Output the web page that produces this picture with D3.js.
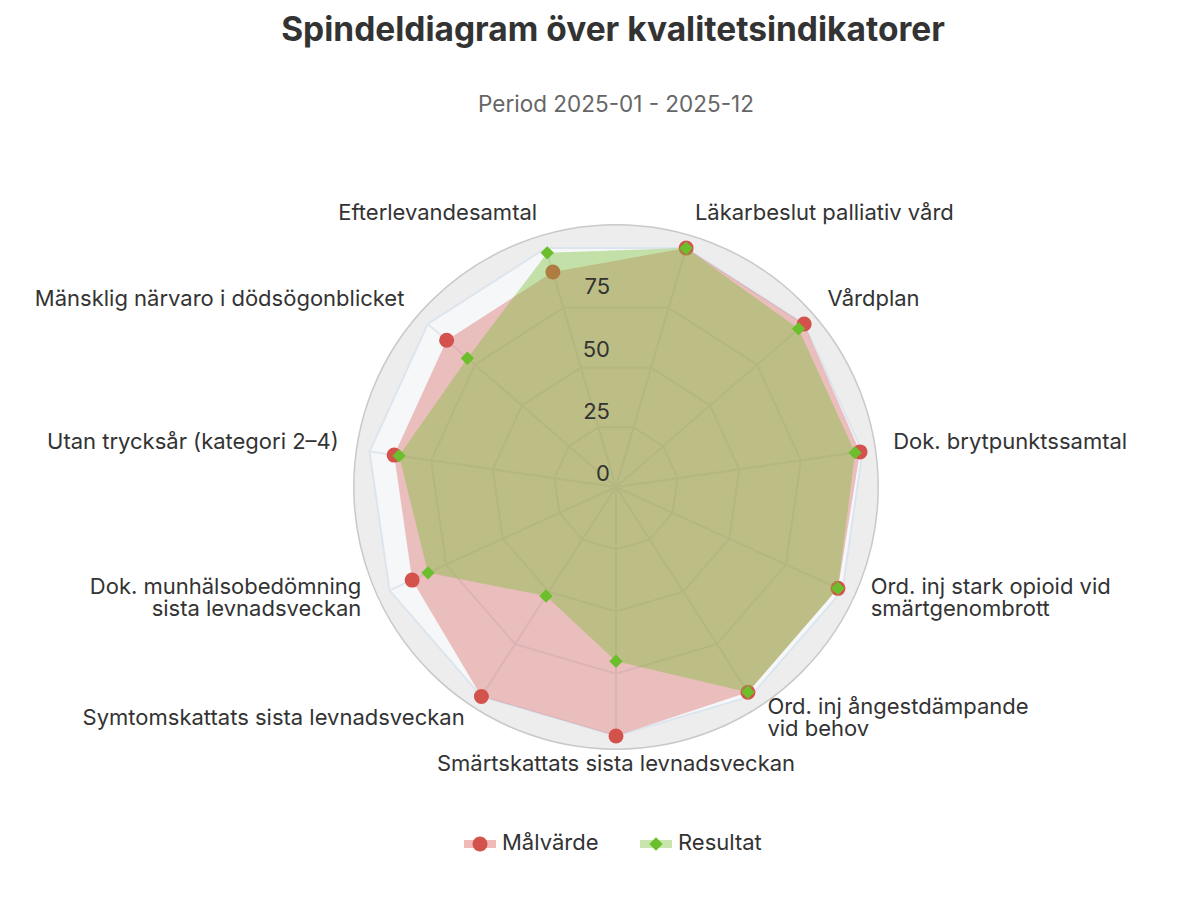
<!DOCTYPE html>
<html>
<head>
<meta charset="utf-8">
<script src="https://cdnjs.cloudflare.com/ajax/libs/d3/7.8.5/d3.min.js"></script>
<style>
  body { margin: 0; background: #fff; }
  #chart { width: 1182px; height: 898px; }
  text { font-family: Inter, "Noto Sans", sans-serif; }
</style>
</head>
<body>
<div id="chart"></div>
<script>

// categories, clockwise from the top
var categories = [
  ["Läkarbeslut palliativ vård"],
  ["Vårdplan"],
  ["Dok. brytpunktssamtal"],
  ["Ord. inj stark opioid vid", "smärtgenombrott"],
  ["Ord. inj ångestdämpande", "vid behov"],
  ["Smärtskattats sista levnadsveckan"],
  ["Symtomskattats sista levnadsveckan"],
  ["Dok. munhälsobedömning", "sista levnadsveckan"],
  ["Utan trycksår (kategori 2–4)"],
  ["Mänsklig närvaro i dödsögonblicket"],
  ["Efterlevandesamtal"]
];
var malvarde  = [100, 100, 99, 98, 98, 100, 100, 90, 90, 90, 90];
var resultat  = [100, 97, 97, 98, 98, 70, 52, 83, 88, 79, 98];
var ticks = [0, 25, 50, 75];
var seriesNames = ["Målvärde", "Resultat"];

var width = 1182, height = 898;
var cx = 616, cy = 487, R = 249;
var fs = "22px";

var svg = d3.select("#chart").append("svg")
    .attr("width", width)
    .attr("height", height);

var n = categories.length;
var step = 2 * Math.PI / n;
function ang(i) { return step / 2 + i * step; }

var r = d3.scaleLinear().domain([0, 100]).range([0, R]);

var g = svg.append("g").attr("transform", "translate(" + cx + "," + cy + ")");

// title
svg.append("text")
    .attr("x", 613).attr("y", 32)
    .attr("text-anchor", "middle").attr("dominant-baseline", "middle")
    .style("font-size", "33.5px").style("font-weight", "bold").style("fill", "#333")
    .text("Spindeldiagram över kvalitetsindikatorer");
svg.append("text")
    .attr("x", 616).attr("y", 106)
    .attr("text-anchor", "middle").attr("dominant-baseline", "middle")
    .style("font-size", "22.5px").style("fill", "#666")
    .text("Period 2025-01 - 2025-12");

// background
g.append("circle").attr("r", R * 1.053)
    .style("fill", "#ededed").style("stroke", "#c9c9c9").style("stroke-width", 1.5);

function ring(v) {
  return d3.lineRadial().curve(d3.curveLinearClosed)
    .angle(function(d, i) { return ang(i); })
    .radius(function() { return r(v); })(categories);
}

g.append("path").attr("d", ring(100))
    .style("fill", "#f5f7f9").style("stroke", "#dce5ed").style("stroke-width", 2);

ticks.slice(1).forEach(function(t) {
  g.append("path").attr("d", ring(t))
    .style("fill", "none").style("stroke", "#e0e6eb").style("stroke-width", 2);
});

g.selectAll(".spoke").data(categories).enter().append("line")
    .attr("x1", 0).attr("y1", 0)
    .attr("x2", function(d, i) { return r(100) * Math.sin(ang(i)); })
    .attr("y2", function(d, i) { return -r(100) * Math.cos(ang(i)); })
    .style("stroke", "#e0e6eb").style("stroke-width", 2);

var area = d3.lineRadial().curve(d3.curveLinearClosed)
    .angle(function(d, i) { return ang(i); })
    .radius(function(d) { return r(d); });

// Målvärde
g.append("path").attr("d", area(malvarde))
    .style("fill", "#d9534f").style("fill-opacity", 0.35);
g.selectAll(".mal").data(malvarde).enter().append("circle")
    .attr("cx", function(d, i) { return r(d) * Math.sin(ang(i)); })
    .attr("cy", function(d, i) { return -r(d) * Math.cos(ang(i)); })
    .attr("r", 7.5)
    .style("fill", "#d4524c");

// Resultat
g.append("path").attr("d", area(resultat))
    .style("fill", "#78bf32").style("fill-opacity", 0.4);
var diamond = d3.symbol().type(d3.symbolSquare).size(90);
g.selectAll(".res").data(resultat).enter().append("path")
    .attr("d", diamond)
    .attr("transform", function(d, i) {
      return "translate(" + (r(d) * Math.sin(ang(i))) + "," + (-r(d) * Math.cos(ang(i))) + ") rotate(45)";
    })
    .style("fill", "#6cbf2c");

// tick labels
g.selectAll(".tick").data(ticks).enter().append("text")
    .attr("x", -6)
    .attr("y", function(d) { return -r(d) - 12; })
    .attr("text-anchor", "end").attr("dominant-baseline", "middle")
    .style("font-size", fs).style("fill", "#333")
    .text(function(d) { return d; });

// category labels
var LR = 280;
var lab = g.selectAll(".cat").data(categories).enter().append("text")
    .attr("text-anchor", function(d, i) {
      var s = Math.sin(ang(i));
      return Math.abs(s) < 0.05 ? "middle" : (s > 0 ? "start" : "end");
    })
    .style("font-size", fs).style("fill", "#333");
lab.each(function(d, i) {
  var x = LR * Math.sin(ang(i)), y = -LR * Math.cos(ang(i));
  if (Math.abs(Math.sin(ang(i))) < 0.05) y += 2;
  var t = d3.select(this);
  d.forEach(function(line, k) {
    t.append("tspan")
      .attr("x", x)
      .attr("y", y - 4 + (k - (d.length - 1) / 2) * 22)
      .attr("dominant-baseline", "middle")
      .text(line);
  });
});

// legend
var legend = svg.append("g").attr("transform", "translate(0,844)");
var legItems = [
  { name: seriesNames[0], x: 464, fill: "#d9534f", mark: "#d4524c", shape: "circle" },
  { name: seriesNames[1], x: 640, fill: "#78bf32", mark: "#6cbf2c", shape: "diamond" }
];
legItems.forEach(function(it) {
  legend.append("rect").attr("x", it.x).attr("y", -4).attr("width", 32).attr("height", 8)
    .style("fill", it.fill).style("fill-opacity", 0.4);
  if (it.shape === "circle") {
    legend.append("circle").attr("cx", it.x + 16).attr("cy", 0).attr("r", 7.5).style("fill", it.mark);
  } else {
    legend.append("path").attr("d", diamond)
      .attr("transform", "translate(" + (it.x + 16) + ",0) rotate(45)").style("fill", it.mark);
  }
  legend.append("text").attr("x", it.x + 38).attr("y", 0)
    .attr("dominant-baseline", "middle")
    .style("font-size", fs).style("fill", "#333")
    .text(it.name);
});

</script>
</body>
</html>
